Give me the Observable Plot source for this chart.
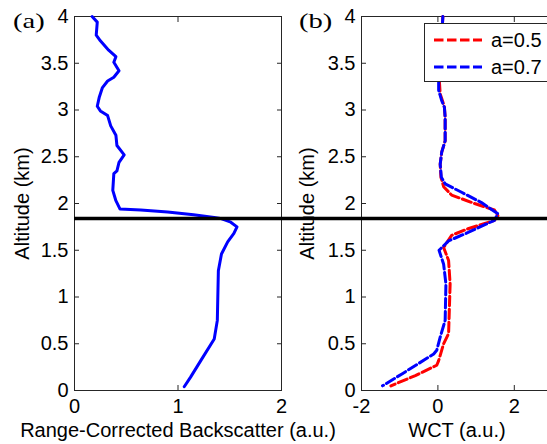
<!DOCTYPE html>
<html><head><meta charset="utf-8">
<script src="https://cdn.jsdelivr.net/npm/d3@7"></script>
<script src="https://cdn.jsdelivr.net/npm/@observablehq/plot@0.6"></script>
<style>
body{margin:0;background:#fff;}
#fig{position:relative;width:547px;height:444px;overflow:hidden;background:#fff;}
.tag{position:absolute;font-family:"Liberation Serif","Times New Roman",serif;font-size:22px;line-height:22px;color:#000;transform:scaleX(1.3);transform-origin:0 0;}
#legend{position:absolute;left:424px;top:23px;width:126px;height:57px;border:1px solid #262626;background:#fff;}
#legend svg{position:absolute;left:0;top:0;overflow:visible;}
</style></head>
<body><div id="fig"></div>
<script>
// ---- data ----
const altA = [4.00,3.94,3.80,3.74,3.64,3.57,3.51,3.42,3.35,3.31,3.24,3.14,3.04,2.99,2.94,2.83,2.73,2.62,2.52,2.44,2.35,2.32,2.14,2.03,1.94,1.93,1.91,1.88,1.85,1.84,1.80,1.75,1.68,1.59,1.46,1.28,0.75,0.55,0.32,0.14,0.04];
const backscatter = [0.17,0.22,0.21,0.25,0.33,0.40,0.38,0.43,0.38,0.32,0.27,0.24,0.22,0.25,0.32,0.35,0.40,0.41,0.48,0.43,0.41,0.38,0.37,0.40,0.44,0.64,0.90,1.15,1.35,1.41,1.51,1.57,1.54,1.48,1.42,1.39,1.38,1.35,1.22,1.12,1.06];

const altRed = [4.00,3.85,3.60,3.40,3.30,3.17,3.10,3.03,2.92,2.67,2.55,2.42,2.28,2.18,2.09,2.00,1.93,1.87,1.82,1.73,1.66,1.53,1.39,1.14,0.61,0.50,0.32,0.27,0.16,0.05];
const wct05 = [0.13,0.11,0.07,0.05,0.04,0.06,0.12,0.17,0.19,0.19,0.10,0.06,0.08,0.15,0.36,0.96,1.48,1.57,1.48,0.79,0.36,0.15,0.28,0.32,0.28,0.15,0.02,-0.03,-0.59,-1.23];

const altBlue = [4.00,3.85,3.60,3.40,3.30,3.21,3.10,3.03,2.92,2.67,2.55,2.42,2.28,2.21,2.12,2.01,1.89,1.82,1.69,1.60,1.50,1.35,1.14,0.75,0.57,0.43,0.39,0.18,0.05];
const wct07 = [0.13,0.11,0.07,0.04,0.02,0.02,0.10,0.17,0.19,0.19,0.10,0.06,0.09,0.19,0.62,1.14,1.57,1.48,0.79,0.28,0.03,0.15,0.21,0.19,0.06,-0.03,-0.11,-0.93,-1.45];

const boundary = [1.84];
const seriesNames = ["a=0.5","a=0.7"];
const seriesColors = ["#ff0000","#0000ff"];

const yTicks = [0,0.5,1,1.5,2,2.5,3,3.5,4];
const xTicksA = [0,1,2];
const xTicksB = [-2,0,2];

// ---- build tables ----
const profile = altA.map((a,i)=>({alt:a, val:backscatter[i]}));
const wct = [
  ...altRed.map((a,i)=>({alt:a, val:wct05[i], s:seriesNames[0]})),
  ...altBlue.map((a,i)=>({alt:a, val:wct07[i], s:seriesNames[1]}))
];

const ink = "#262626";
const fmt = d => String(d);
const blank = () => "";
const style = {fontFamily:'"Liberation Sans", Arial, sans-serif', fontSize:"20px", background:"transparent", overflow:"visible", color:"#000"};

function frameAxes(xTicks, xLabel, yLabelOffset){
  return [
    Plot.frame({stroke: ink}),
    Plot.axisX({anchor:"bottom", ticks:xTicks, tickSize:-5, tickFormat:blank, label:null, stroke:ink}),
    Plot.axisX({anchor:"top", ticks:xTicks, tickSize:-5, tickFormat:blank, label:null, stroke:ink}),
    Plot.axisY({anchor:"left", ticks:yTicks, tickSize:-5, tickFormat:blank, label:null, stroke:ink}),
    Plot.axisY({anchor:"right", ticks:yTicks, tickSize:-5, tickFormat:blank, label:null, stroke:ink}),
    Plot.axisX({anchor:"bottom", ticks:xTicks, tickSize:0, tickPadding:8, tickFormat:fmt, label:xLabel, labelAnchor:"center", labelOffset:46, labelArrow:"none"}),
    Plot.axisY({anchor:"left", ticks:yTicks, tickSize:0, tickPadding:6, tickFormat:fmt, label:"Altitude (km)", labelAnchor:"center", labelOffset:yLabelOffset, labelArrow:"none"})
  ];
}

const plotA = Plot.plot({
  width: 290, height: 444,
  marginLeft: 74, marginRight: 9, marginTop: 16, marginBottom: 54,
  style,
  x: {domain:[0,2]},
  y: {domain:[0,4]},
  marks: [
    ...frameAxes(xTicksA, "Range-Corrected Backscatter (a.u.)", 60),
    Plot.line(profile, {x:"val", y:"alt", stroke:"#0000ff", strokeWidth:3, curve:"linear"}),
    Plot.ruleY(boundary, {stroke:"#000", strokeWidth:3.5})
  ]
});

const plotB = Plot.plot({
  width: 272, height: 444,
  marginLeft: 80, marginRight: 1, marginTop: 16, marginBottom: 54,
  style,
  x: {domain:[-2,3]},
  y: {domain:[0,4]},
  color: {domain: seriesNames, range: seriesColors},
  marks: [
    ...frameAxes(xTicksB, "WCT (a.u.)", 62),
    Plot.line(wct, {x:"val", y:"alt", z:"s", stroke:"s", strokeWidth:3, strokeDasharray:"9.5,3.5"}),
    Plot.ruleY(boundary, {stroke:"#000", strokeWidth:3.5, insetLeft:-80})
  ]
});

const fig = document.getElementById("fig");
plotA.style.position = "absolute"; plotA.style.left = "0px"; plotA.style.top = "0px";
plotB.style.position = "absolute"; plotB.style.left = "281px"; plotB.style.top = "0px";
fig.appendChild(plotA);
fig.appendChild(plotB);

// panel tags
[["(a)",13],["(b)",299]].forEach(([t,x])=>{
  const d = document.createElement("div");
  d.className = "tag"; d.textContent = t;
  d.style.left = x+"px"; d.style.top = "10px";
  fig.appendChild(d);
});

// legend
const leg = document.createElement("div");
leg.id = "legend";
const ns = "http://www.w3.org/2000/svg";
const ls = document.createElementNS(ns,"svg");
ls.setAttribute("width","126"); ls.setAttribute("height","57");
seriesNames.forEach((name,i)=>{
  const y = 16 + i*27;
  const ln = document.createElementNS(ns,"line");
  ln.setAttribute("x1",9); ln.setAttribute("x2",57);
  ln.setAttribute("y1",y); ln.setAttribute("y2",y);
  ln.setAttribute("stroke",seriesColors[i]); ln.setAttribute("stroke-width",3);
  ln.setAttribute("stroke-dasharray","9.5,3.5");
  ls.appendChild(ln);
  const tx = document.createElementNS(ns,"text");
  tx.setAttribute("x",66); tx.setAttribute("y",y+7);
  tx.setAttribute("font-family",'"Liberation Sans", Arial, sans-serif');
  tx.setAttribute("font-size","20");
  tx.setAttribute("fill","#000");
  tx.textContent = name;
  ls.appendChild(tx);
});
leg.appendChild(ls);
fig.appendChild(leg);
</script>
</body></html>
